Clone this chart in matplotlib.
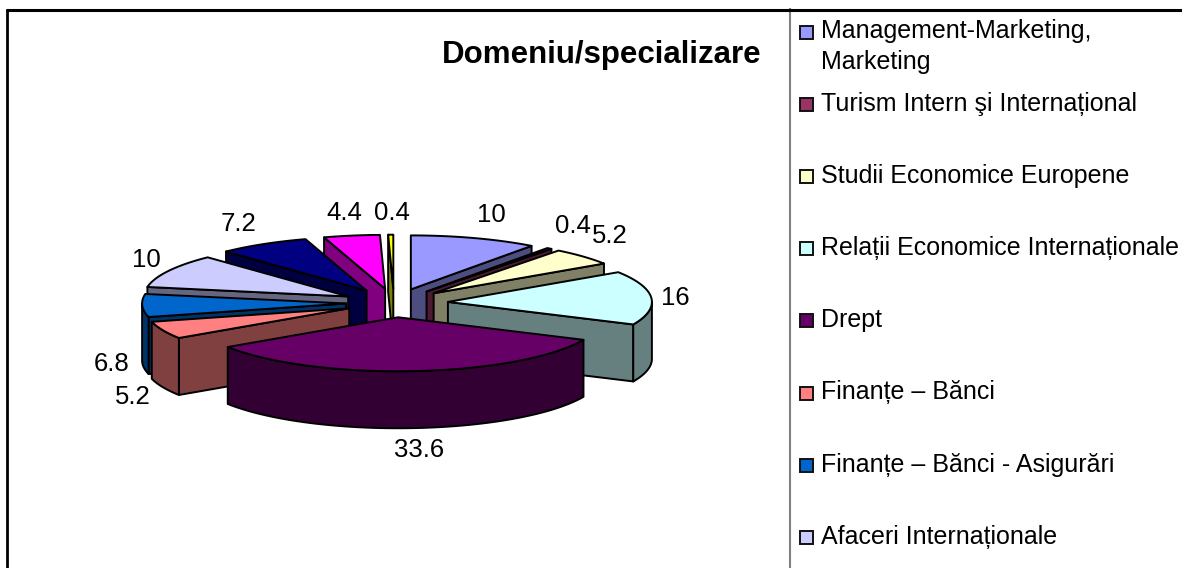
import numpy as np
import matplotlib
matplotlib.use('Agg')
import matplotlib.pyplot as plt
from matplotlib.patches import Rectangle

plt.rcParams['font.family'] = ['Liberation Sans', 'DejaVu Sans']

title = 'Domeniu/specializare'

# clockwise from 12 o'clock
values = [10, 0.4, 5.2, 16, 33.6, 5.2, 6.8, 10, 7.2, 4.4, 0.4]
value_labels = ['10', '0.4', '5.2', '16', '33.6', '5.2', '6.8', '10', '7.2', '4.4', '0.4']
colors = ['#9999FF', '#993366', '#FFFFCC', '#CCFFFF', '#660066', '#FF8080',
          '#0066CC', '#CCCCFF', '#000080', '#FF00FF', '#FFFF00']
legend_labels = ['Management-Marketing,\nMarketing', 'Turism Intern şi Internațional',
                 'Studii Economice Europene', 'Relații Economice Internaționale',
                 'Drept', 'Finanțe – Bănci', 'Finanțe – Bănci - Asigurări',
                 'Afaceri Internaționale']

# pie geometry, in pixels of the picture
cx, cy = 394, 303
rx, ry = 204, 54
depth = 57
explode = [0.265, 0.265, 0.265, 0.265, 0.265, 0.24, 0.235, 0.255, 0.265, 0.265, 0.265]

# label anchor positions
label_xy = [(491, 215), (573, 226), (610, 236), (675, 298), (419, 450), (133, 397),
            (112, 364), (146, 260), (239, 224), (344, 213), (392, 213)]


def shade(c):
    r, g, b = matplotlib.colors.to_rgb(c)
    return (r * 0.5, g * 0.5, b * 0.5)


fig = plt.figure(figsize=(11.82, 5.68), dpi=100)
ax = fig.add_axes([0, 0, 1, 1])
ax.set_xlim(0, 1182)
ax.set_ylim(568, 0)
ax.axis('off')

# frame
ax.plot([789.5, 789.5], [9, 568], color='#808080', lw=1.5)
ax.plot([6, 1182], [9.5, 9.5], color='black', lw=2.2, solid_capstyle='butt')
ax.plot([7, 7], [9, 568], color='black', lw=2, solid_capstyle='butt')

ax.text(601.5, 55, title, fontsize=22.5, fontweight='bold', ha='center', va='center')

vals = np.array(values, dtype=float)
edges = np.concatenate([[0], np.cumsum(vals) / vals.sum() * 2 * np.pi])


def px(t, r=1.0, ox=0, oy=0):
    return ox + r * rx * np.sin(t), oy - r * ry * np.cos(t)


mids = (edges[:-1] + edges[1:]) / 2
for i in np.argsort(-np.cos(mids)):
    t0, t1 = edges[i], edges[i + 1]
    ox, oy = px(mids[i], explode[i], cx, cy)
    col = colors[i]
    dark = shade(col)
    ts = np.linspace(t0, t1, 60)
    ex, ey = px(ts, 1.0, ox, oy)

    # radial walls, only the ones facing the viewer
    for t, n in ((t0, t0 - np.pi / 2), (t1, t1 + np.pi / 2)):
        if np.cos(n) < 0:
            wx, wy = px(t, 1.0, ox, oy)
            ax.fill([ox, wx, wx, ox], [oy, wy, wy + depth, oy + depth],
                    facecolor=dark, edgecolor='black', lw=1.4, joinstyle='round')

    # outer wall
    front = ts[np.cos(ts) < 0]
    if len(front) > 1:
        fx, fy = px(front, 1.0, ox, oy)
        ax.fill(np.r_[fx, fx[::-1]], np.r_[fy, fy[::-1] + depth],
                facecolor=dark, edgecolor='black', lw=1.4, joinstyle='round')

    # top face
    ax.fill(np.r_[ox, ex], np.r_[oy, ey], facecolor=col, edgecolor='black',
            lw=1.4, joinstyle='round')

for lab, (x, y) in zip(value_labels, label_xy):
    ax.text(x, y, lab, fontsize=18.5, ha='center', va='center', color='black')

# legend
for i, lab in enumerate(legend_labels):
    y = 32 + 72.2 * i
    ax.add_patch(Rectangle((799.5, y - 6.5), 13, 13, facecolor=colors[i], edgecolor='#111111', lw=1.4))
    # baseline alignment goes by the last line of a wrapped label
    ax.text(821, y + 6.5 + 31 * lab.count('\n'), lab, fontsize=18, ha='left', va='baseline',
            linespacing=1.42, color='black')

plt.savefig('out.png', dpi=100)
plt.close()
